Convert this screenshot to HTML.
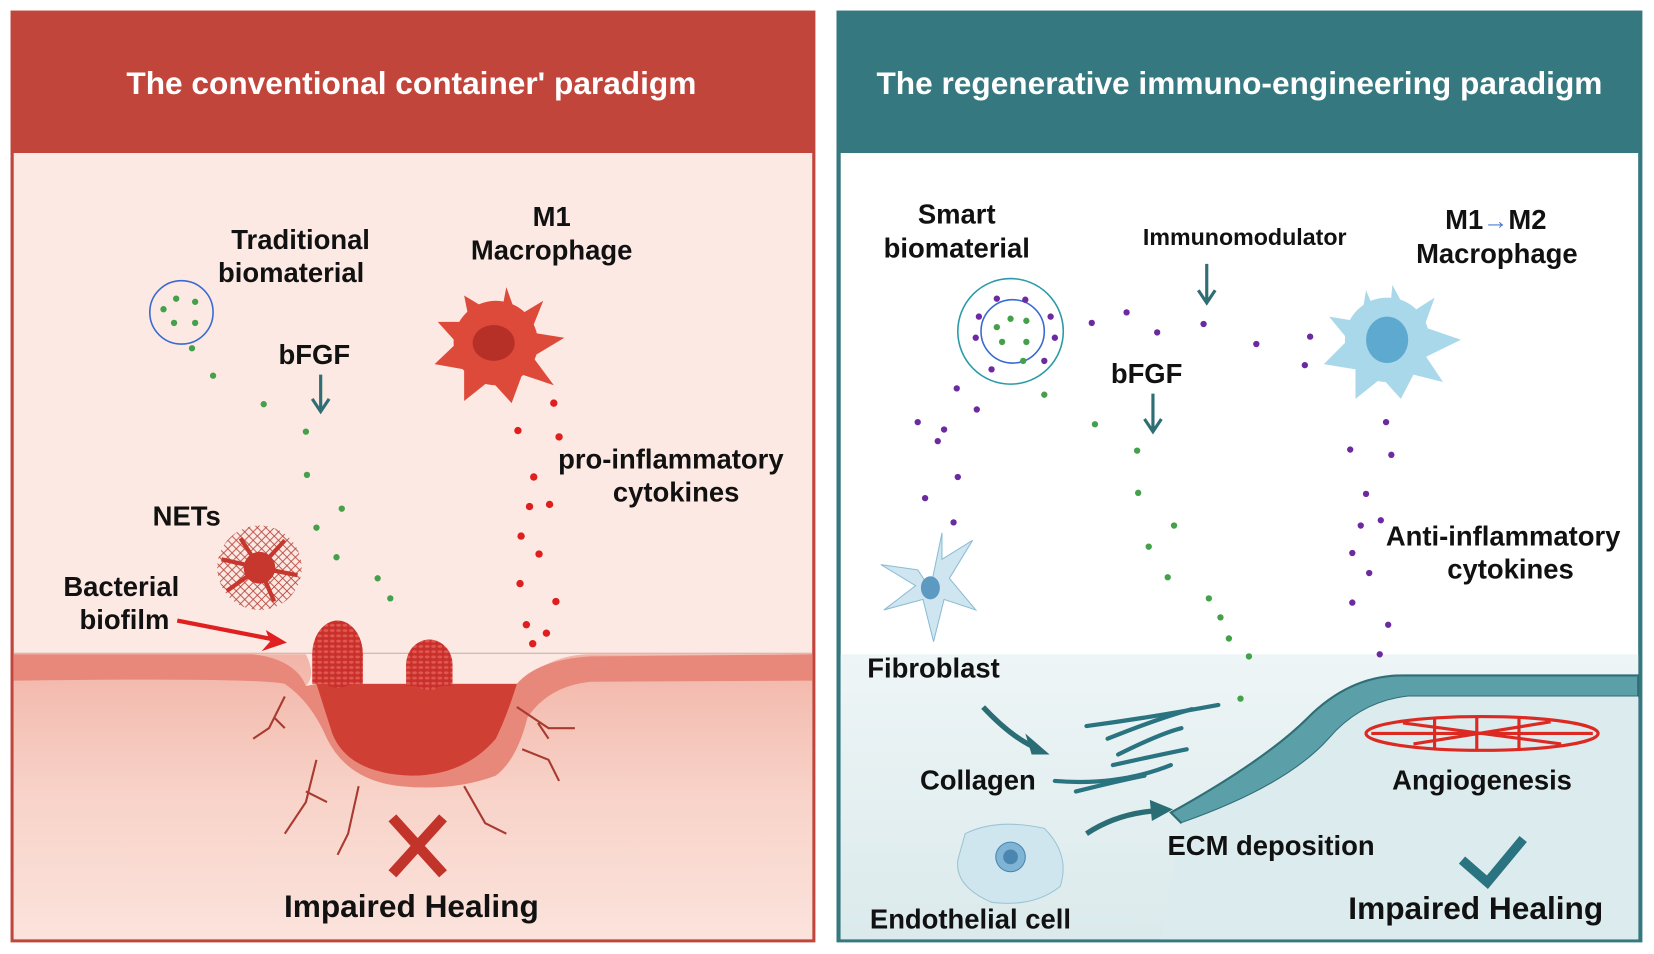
<!DOCTYPE html>
<html><head><meta charset="utf-8"><style>
html,body{margin:0;padding:0;background:#fff;}
svg{display:block;}
text{font-family:"Liberation Sans",Arial,sans-serif;font-weight:bold;}
</style></head><body>
<svg width="1654" height="954" viewBox="0 0 1568 904" preserveAspectRatio="none" xmlns="http://www.w3.org/2000/svg">
<defs>
<linearGradient id="skin" x1="0" y1="0" x2="0" y2="1">
<stop offset="0" stop-color="#f2b5a8"/><stop offset="0.5" stop-color="#f8d3c9"/><stop offset="1" stop-color="#fbe3dc"/></linearGradient>
<linearGradient id="tskin" x1="0" y1="0" x2="0" y2="1">
<stop offset="0" stop-color="#eef5f6"/><stop offset="1" stop-color="#dbeaec"/></linearGradient>
<pattern id="net" width="8" height="8" patternUnits="userSpaceOnUse"><path d="M0 0L8 8M8 0L0 8" stroke="#b3443a" stroke-width="0.8"/></pattern>
<pattern id="bio" width="6" height="5" patternUnits="userSpaceOnUse"><rect width="6" height="5" fill="#c9302c"/><ellipse cx="3" cy="2.5" rx="2.3" ry="1.4" fill="#e0574f"/></pattern>
</defs>
<rect width="1568" height="904" fill="#fff"/>
<!-- LEFT PANEL -->
<rect x="10" y="10" width="763" height="883" fill="#c1453a"/>
<rect x="13" y="145" width="757" height="745" fill="#fde9e3"/>
<text x="390" y="89" font-size="30" fill="#fff" text-anchor="middle">The conventional container' paradigm</text>
<!-- skin -->
<path d="M13 620 L290 620 Q300 640 290 650 L490 650 Q520 620 560 620 L770 620 L770 890 L13 890Z" fill="url(#skin)"/>
<path d="M13 620 L240 620 Q280 625 290 650 L300 648 L490 648 Q510 625 560 622 L770 620 L770 645 L560 646 Q520 650 500 680 Q490 720 470 735 Q430 750 380 745 Q330 740 310 700 Q295 665 270 648 Q240 642 13 645Z" fill="#e8887a"/>
<path d="M300 648 L490 648 Q480 680 470 700 Q440 735 390 735 Q330 733 315 695Z" fill="#cf3f34"/>
<line x1="13" y1="619" x2="770" y2="619" stroke="#c9a9a3" stroke-width="1"/>
<g stroke="#a83a30" stroke-width="2" fill="none">
<path d="M270 660 L255 690 L240 700 M260 680 L270 690"/>
<path d="M300 720 L290 760 L270 790 M290 750 L310 760"/>
<path d="M340 745 L330 790 L320 810"/>
<path d="M490 670 L520 690 L545 690 M510 685 L520 700"/>
<path d="M495 710 L520 720 L530 740"/>
<path d="M440 745 L460 780 L480 790"/>
</g>
<ellipse cx="320" cy="620" rx="24" ry="32" fill="url(#bio)"/>
<rect x="296" y="620" width="48" height="28" fill="url(#bio)"/>
<ellipse cx="407" cy="630" rx="22" ry="24" fill="url(#bio)"/>
<rect x="385" y="630" width="44" height="20" fill="url(#bio)"/>
<!-- red arrow -->
<line x1="168" y1="588" x2="265" y2="607" stroke="#e02020" stroke-width="4"/>
<path d="M272 609 L252 597 L256 608 L248 617Z" fill="#e02020"/>
<!-- X -->
<path d="M372 775 L420 828 M420 775 L372 828" stroke="#c2342a" stroke-width="10"/>
<text x="390" y="869" font-size="30" fill="#111" text-anchor="middle">Impaired Healing</text>
<!-- circle biomaterial -->
<circle cx="172" cy="296" r="30" fill="none" stroke="#3a6ad0" stroke-width="1.5"/>
<g fill="#44a04a"><circle cx="155" cy="293" r="3"/><circle cx="167" cy="283" r="3"/><circle cx="185" cy="286" r="3"/><circle cx="165" cy="306" r="3"/><circle cx="185" cy="306" r="3"/>
<circle cx="182" cy="330" r="3"/><circle cx="202" cy="356" r="3"/><circle cx="250" cy="383" r="3"/><circle cx="290" cy="409" r="3"/><circle cx="291" cy="450" r="3"/><circle cx="324" cy="482" r="3"/><circle cx="300" cy="500" r="3"/><circle cx="319" cy="528" r="3"/><circle cx="358" cy="548" r="3"/><circle cx="370" cy="567" r="3"/></g>
<text x="285" y="236" font-size="26" fill="#111" text-anchor="middle">Traditional</text>
<text x="276" y="267" font-size="26" fill="#111" text-anchor="middle">biomaterial</text>
<text x="298" y="345" font-size="26" fill="#111" text-anchor="middle">bFGF</text>
<path d="M304 355 L304 388 M296 378 L304 390 L312 378" stroke="#2f6e75" stroke-width="3" fill="none"/>
<!-- macrophage -->
<g fill="#de4a3a">
<circle cx="470" cy="325" r="40"/>
<path d="M470 325 L480 272 L490 300 L515 285 L503 315 L535 320 L505 338 L525 365 L495 355 L485 382 L465 360 L440 380 L440 350 L412 345 L433 325 L415 305 L445 305 L440 280 L465 295Z"/>
</g>
<ellipse cx="468" cy="325" rx="20" ry="17" fill="#b73027"/>
<text x="523" y="214" font-size="26" fill="#111" text-anchor="middle">M1</text>
<text x="523" y="246" font-size="26" fill="#111" text-anchor="middle">Macrophage</text>
<g fill="#e01e1e"><circle cx="525" cy="382" r="3.5"/><circle cx="491" cy="408" r="3.5"/><circle cx="530" cy="414" r="3.5"/><circle cx="506" cy="452" r="3.5"/><circle cx="502" cy="480" r="3.5"/><circle cx="521" cy="478" r="3.5"/><circle cx="494" cy="508" r="3.5"/><circle cx="511" cy="525" r="3.5"/><circle cx="493" cy="553" r="3.5"/><circle cx="527" cy="570" r="3.5"/><circle cx="499" cy="592" r="3.5"/><circle cx="518" cy="600" r="3.5"/><circle cx="505" cy="610" r="3.5"/></g>
<text x="636" y="444" font-size="26" fill="#111" text-anchor="middle">pro-inflammatory</text>
<text x="641" y="475" font-size="26" fill="#111" text-anchor="middle">cytokines</text>
<text x="177" y="498" font-size="26" fill="#111" text-anchor="middle">NETs</text>
<circle cx="246" cy="538" r="40" fill="url(#net)"/>
<circle cx="246" cy="538" r="15" fill="#c7372d"/>
<path d="M246 538 L228 510 M246 538 L270 512 M246 538 L282 545 M246 538 L260 570 M246 538 L215 560 M246 538 L210 530" stroke="#c7372d" stroke-width="4"/>
<text x="115" y="565" font-size="26" fill="#111" text-anchor="middle">Bacterial</text>
<text x="118" y="596" font-size="26" fill="#111" text-anchor="middle">biofilm</text>

<!-- RIGHT PANEL -->
<rect x="793" y="10" width="764" height="883" fill="#35787f"/>
<rect x="797" y="145" width="756" height="745" fill="#fff"/>
<text x="1175" y="89" font-size="30" fill="#fff" text-anchor="middle">The regenerative immuno-engineering paradigm</text>
<rect x="797" y="620" width="756" height="270" fill="url(#tskin)"/>
<path d="M1110 770 Q1200 720 1240 680 Q1280 640 1330 640 L1553 640 L1553 660 L1335 660 Q1290 665 1260 700 Q1220 745 1120 780Z" fill="#5b9fa8" stroke="#2f6e75" stroke-width="2"/>
<path d="M1335 660 L1553 660 L1553 890 L1100 890 L1120 780 Q1220 745 1260 700 Q1290 665 1335 660Z" fill="#dcebed"/>
<!-- angiogenesis -->
<g stroke="#dc2a22" fill="none" stroke-width="3">
<ellipse cx="1405" cy="695" rx="110" ry="16"/>
<path d="M1300 695 L1510 695 M1330 685 L1480 705 M1340 705 L1470 684 M1360 680 L1360 710 M1400 678 L1400 712 M1440 680 L1440 710"/>
</g>
<text x="1405" y="748" font-size="26" fill="#111" text-anchor="middle">Angiogenesis</text>
<!-- collagen -->
<g stroke="#2a7380" stroke-width="4" fill="none" stroke-linecap="round">
<path d="M1030 688 Q1090 680 1155 668"/><path d="M1050 700 Q1100 680 1130 672"/><path d="M1060 715 Q1100 695 1120 690"/><path d="M1055 725 Q1100 715 1125 710"/><path d="M1000 740 Q1060 745 1110 725"/><path d="M1020 750 Q1060 740 1085 735"/>
</g>
<path d="M932 670 Q960 700 985 710" stroke="#2a6d75" stroke-width="5" fill="none"/>
<path d="M995 715 L972 695 L978 715Z" fill="#2a6d75"/>
<path d="M1030 790 Q1060 770 1100 768" stroke="#2a6d75" stroke-width="5" fill="none"/>
<path d="M1112 767 L1090 758 L1092 778Z" fill="#2a6d75"/>
<text x="885" y="642" font-size="26" fill="#111" text-anchor="middle">Fibroblast</text>
<text x="927" y="748" font-size="26" fill="#111" text-anchor="middle">Collagen</text>
<text x="1205" y="810" font-size="26" fill="#111" text-anchor="middle">ECM deposition</text>
<text x="920" y="880" font-size="26" fill="#111" text-anchor="middle">Endothelial cell</text>
<text x="1399" y="871" font-size="30" fill="#111" text-anchor="middle">Impaired Healing</text>
<path d="M1386 815 L1410 836 L1444 795" stroke="#2a7380" stroke-width="9" fill="none"/>
<!-- endothelial cell -->
<path d="M915 790 Q945 775 990 785 Q1015 810 1005 840 Q980 860 940 855 Q905 840 908 815Z" fill="#d0e6ee" stroke="#9cc4d4"/>
<circle cx="958" cy="812" r="14" fill="#7fb4d4" stroke="#4a86b0"/>
<circle cx="958" cy="812" r="7" fill="#4a86b0"/>
<!-- fibroblast -->
<g fill="#cfe6f1" stroke="#8bbcd4"><path d="M882 558 L893 505 L893 530 L922 512 L900 548 L925 578 L895 568 L885 608 L875 568 L838 578 L868 555 L835 535 L870 540Z"/></g>
<ellipse cx="882" cy="557" rx="9" ry="11" fill="#5c9ac2"/>
<!-- smart biomaterial -->
<circle cx="958" cy="314" r="50" fill="none" stroke="#2b9aa8" stroke-width="1.5"/>
<circle cx="960" cy="314" r="30" fill="none" stroke="#3a6ad0" stroke-width="1.5"/>
<g fill="#44a04a"><circle cx="945" cy="310" r="3"/><circle cx="958" cy="302" r="3"/><circle cx="973" cy="304" r="3"/><circle cx="950" cy="324" r="3"/><circle cx="973" cy="324" r="3"/><circle cx="970" cy="342" r="3"/>
<circle cx="990" cy="374" r="3"/><circle cx="1038" cy="402" r="3"/><circle cx="1078" cy="427" r="3"/><circle cx="1079" cy="467" r="3"/><circle cx="1113" cy="498" r="3"/><circle cx="1089" cy="518" r="3"/><circle cx="1107" cy="547" r="3"/><circle cx="1146" cy="567" r="3"/><circle cx="1157" cy="585" r="3"/><circle cx="1165" cy="605" r="3"/><circle cx="1184" cy="622" r="3"/><circle cx="1176" cy="662" r="3"/></g>
<g fill="#6c2aa0"><circle cx="945" cy="283" r="3"/><circle cx="972" cy="284" r="3"/><circle cx="928" cy="300" r="3"/><circle cx="996" cy="300" r="3"/><circle cx="925" cy="320" r="3"/><circle cx="1000" cy="320" r="3"/><circle cx="940" cy="350" r="3"/><circle cx="990" cy="342" r="3"/>
<circle cx="1035" cy="306" r="3"/><circle cx="1068" cy="296" r="3"/><circle cx="1097" cy="315" r="3"/><circle cx="1141" cy="307" r="3"/><circle cx="1191" cy="326" r="3"/><circle cx="1242" cy="319" r="3"/><circle cx="1237" cy="346" r="3"/>
<circle cx="907" cy="368" r="3"/><circle cx="926" cy="388" r="3"/><circle cx="870" cy="400" r="3"/><circle cx="895" cy="407" r="3"/><circle cx="889" cy="418" r="3"/><circle cx="908" cy="452" r="3"/><circle cx="877" cy="472" r="3"/><circle cx="904" cy="495" r="3"/>
<circle cx="1314" cy="400" r="3"/><circle cx="1280" cy="426" r="3"/><circle cx="1319" cy="431" r="3"/><circle cx="1295" cy="468" r="3"/><circle cx="1290" cy="498" r="3"/><circle cx="1309" cy="493" r="3"/><circle cx="1282" cy="524" r="3"/><circle cx="1298" cy="543" r="3"/><circle cx="1282" cy="571" r="3"/><circle cx="1316" cy="592" r="3"/><circle cx="1308" cy="620" r="3"/></g>
<text x="907" y="212" font-size="26" fill="#111" text-anchor="middle">Smart</text>
<text x="907" y="244" font-size="26" fill="#111" text-anchor="middle">biomaterial</text>
<text x="1180" y="232" font-size="22" fill="#111" text-anchor="middle">Immunomodulator</text>
<path d="M1144 250 L1144 285 M1136 275 L1144 287 L1152 275" stroke="#2f6e75" stroke-width="3" fill="none"/>
<text x="1087" y="363" font-size="26" fill="#111" text-anchor="middle">bFGF</text>
<path d="M1093 373 L1093 407 M1085 397 L1093 409 L1101 397" stroke="#2f6e75" stroke-width="3" fill="none"/>
<text x="1370" y="217" font-size="26" fill="#111">M1</text>
<text x="1406" y="217" font-size="24" fill="#4a7fd0" font-weight="normal">→</text>
<text x="1430" y="217" font-size="26" fill="#111">M2</text>
<text x="1419" y="249" font-size="26" fill="#111" text-anchor="middle">Macrophage</text>
<g fill="#a9d8ea">
<circle cx="1315" cy="322" r="40"/>
<path d="M1315 322 L1320 270 L1335 298 L1360 282 L1350 310 L1385 322 L1352 338 L1368 362 L1340 355 L1328 378 L1310 358 L1285 378 L1285 350 L1255 345 L1278 322 L1260 300 L1290 305 L1295 275Z"/>
</g>
<ellipse cx="1315" cy="322" rx="20" ry="22" fill="#5ea9cf"/>
<text x="1425" y="517" font-size="26" fill="#111" text-anchor="middle">Anti-inflammatory</text>
<text x="1432" y="548" font-size="26" fill="#111" text-anchor="middle">cytokines</text>
</svg>
</body></html>
